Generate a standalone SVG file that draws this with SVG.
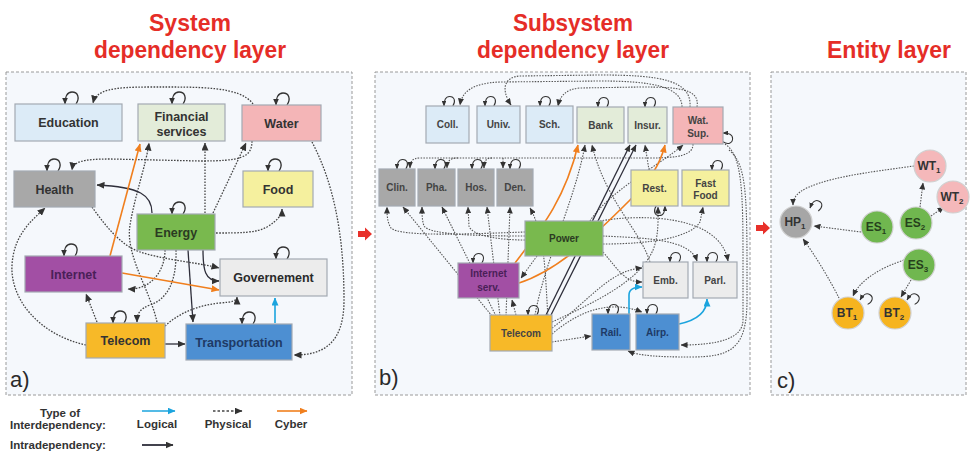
<svg xmlns="http://www.w3.org/2000/svg" xmlns:xlink="http://www.w3.org/1999/xlink" width="971" height="452" viewBox="0 0 971 452">
  <defs>
    <marker id="ah" markerUnits="userSpaceOnUse" markerWidth="8" markerHeight="7" refX="7.5" refY="3.5" orient="auto">
      <path d="M0,0 L8,3.5 L0,7 z" fill="#333"/>
    </marker>
    <marker id="ahs" markerUnits="userSpaceOnUse" markerWidth="7" markerHeight="6" refX="6.5" refY="3" orient="auto">
      <path d="M0,0 L7,3 L0,6 z" fill="#333"/>
    </marker>
    <marker id="ahb" markerUnits="userSpaceOnUse" markerWidth="8" markerHeight="7" refX="7.5" refY="3.5" orient="auto">
      <path d="M0,0 L8,3.5 L0,7 z" fill="#1ba4de"/>
    </marker>
    <marker id="aho" markerUnits="userSpaceOnUse" markerWidth="8" markerHeight="7" refX="7.5" refY="3.5" orient="auto">
      <path d="M0,0 L8,3.5 L0,7 z" fill="#f07f1e"/>
    </marker>
    <path id="loop" d="M11,0 C15,-6 13,-12 7,-12 C2,-12 0,-7 0,0" fill="none" stroke="#333" stroke-width="1.3" marker-end="url(#ahs)"/>
    <style>
      .panel { fill:#f5f8fc; stroke:#9a9a9a; stroke-width:1; stroke-dasharray:3 2; }
      .title { font-family:"Liberation Sans", Arial, sans-serif; font-weight:bold; font-size:24px; fill:#e52d27; text-anchor:middle; }
      .box { stroke:#a3aab2; stroke-width:1.2; }
      .la { font-family:"Liberation Sans", Arial, sans-serif; font-weight:bold; font-size:12.5px; fill:#333; text-anchor:middle; }
      .lb { font-family:"Liberation Sans", Arial, sans-serif; font-weight:bold; font-size:10px; fill:#444; text-anchor:middle; }
      .lc { font-family:"Liberation Sans", Arial, sans-serif; font-weight:bold; font-size:12px; fill:#333; text-anchor:middle; }
      .tag { font-family:"Liberation Sans", Arial, sans-serif; font-size:22px; fill:#2a2a2a; }
      .leg { font-family:"Liberation Sans", Arial, sans-serif; font-weight:bold; font-size:11.5px; fill:#333; }
      .phys { fill:none; stroke:#444; stroke-width:1.3; stroke-dasharray:1.6 1.4; marker-end:url(#ah); }
      .physs { fill:none; stroke:#555; stroke-width:1.1; stroke-dasharray:1.5 1.3; marker-end:url(#ahs); }
      .intra { fill:none; stroke:#2e2e3a; stroke-width:1.3; marker-end:url(#ah); }
      .intras { fill:none; stroke:#2e2e3a; stroke-width:1.3; marker-end:url(#ahs); }
      .cyber { fill:none; stroke:#f07f1e; stroke-width:1.6; marker-end:url(#aho); }
      .logic { fill:none; stroke:#1ba4de; stroke-width:1.6; marker-end:url(#ahb); }
      .edu { fill:#dcebf7; } .fin { fill:#e3ecd9; } .wat { fill:#f4b5b7; } .hlt { fill:#a8a8a8; }
      .food { fill:#f5f09e; } .eng { fill:#79b94e; } .net { fill:#a24fa4; } .gov { fill:#ececec; }
      .tel { fill:#f7b928; } .trn { fill:#4d8fd2; }
      .circ { stroke:#d0d0d0; stroke-width:1.2; }
    </style>
  </defs>

  <rect width="971" height="452" fill="#ffffff"/>

  <!-- panel frames -->
  <rect class="panel" x="6" y="72" width="346" height="323"/>
  <rect class="panel" x="375" y="72" width="375" height="323"/>
  <rect class="panel" x="771" y="72" width="195" height="323"/>

  <!-- titles -->
  <text class="title" x="190" y="31" textLength="82" lengthAdjust="spacingAndGlyphs">System</text>
  <text class="title" x="190" y="58" textLength="192" lengthAdjust="spacingAndGlyphs">dependency layer</text>
  <text class="title" x="573" y="31" textLength="120" lengthAdjust="spacingAndGlyphs">Subsystem</text>
  <text class="title" x="573" y="58" textLength="192" lengthAdjust="spacingAndGlyphs">dependency layer</text>
  <text class="title" x="889" y="58" textLength="124" lengthAdjust="spacingAndGlyphs">Entity layer</text>

  <!-- layer transition arrows -->
  <path d="M358,231 L365,231 L365,227.5 L372,234 L365,240.5 L365,237 L358,237 z" fill="#e8302a"/>
  <path d="M756,225 L763,225 L763,221.5 L770,228 L763,234.5 L763,231 L756,231 z" fill="#e8302a"/>

  <!-- ===== a) system connectors ===== -->
  <g id="connectors-a">
    <path class="phys" d="M253,104 C240,86 200,87 150,87 C112,87 96,90 93,103"/>
    <path class="phys" d="M252,141 C252,158 240,161 200,161 L110,159 C82,159 73,162 72,170"/>
    <path class="phys" d="M205,213 L205,143"/>
    <path class="phys" d="M213,213 L246,143"/>
    <path class="phys" d="M216,233 C240,233 256,233 267,227 C278,220 282,215 282,209"/>
    <path class="phys" d="M157,322 C150,290 125,255 130,225 C135,195 146,165 149,143"/>
    <path class="phys" d="M92,207 C105,225 120,245 140,252 C165,260 195,262 219,268"/>
    <path class="phys" d="M165,250 C165,272 150,290 128,289"/>
    <path class="phys" d="M176,250 C177,285 165,300 150,305 C140,309 137,313 137,322"/>
    <path class="phys" d="M97,322 L86,294"/>
    <path class="phys" d="M86,345 C40,335 10,300 12,265 C14,235 30,222 45,208"/>
    <path class="phys" d="M312,142 C332,180 344,230 344,300 C344,345 322,355 294,355"/>
    <path class="phys" d="M165,326 C180,312 200,305 220,303 C232,302 237,301 237,297"/>
    <path class="intra" d="M152,213 C152,195 140,187 97,185"/>
    <path class="intra" d="M188,250 L193,322"/>
    <path class="intra" d="M203,250 C203,270 205,281 219,281"/>
    <path class="intra" d="M165,344 L185,344"/>
    <path class="cyber" d="M110,256 L140,144"/>
    <path class="cyber" d="M122,273 L219,290"/>
    <path class="logic" d="M275,323 L275,298"/>
    <use href="#loop" transform="translate(65,104)"/>
    <use href="#loop" transform="translate(172,104)"/>
    <use href="#loop" transform="translate(276,105)"/>
    <use href="#loop" transform="translate(47,171)"/>
    <use href="#loop" transform="translate(268,171)"/>
    <use href="#loop" transform="translate(172,214)"/>
    <use href="#loop" transform="translate(64,256)"/>
    <use href="#loop" transform="translate(276,259)"/>
    <use href="#loop" transform="translate(113,323)"/>
    <use href="#loop" transform="translate(242,324)"/>
  </g>

  <!-- ===== a) system nodes ===== -->
  <g id="a-education"><rect class="box edu" x="15" y="104" width="107" height="37"/><text class="la" x="68.5" y="127">Education</text></g>
  <g id="a-financial"><rect class="box fin" x="138" y="104" width="87" height="37"/><text class="la" x="181.5" y="121">Financial</text><text class="la" x="181.5" y="136">services</text></g>
  <g id="a-water"><rect class="box wat" x="242" y="105" width="79" height="36"/><text class="la" x="281.5" y="127.5">Water</text></g>
  <g id="a-health"><rect class="box hlt" x="14" y="171" width="81" height="36"/><text class="la" x="54.5" y="193.5" fill="#3a3a3a">Health</text></g>
  <g id="a-food"><rect class="box food" x="243" y="171" width="70" height="36"/><text class="la" x="278" y="193.5">Food</text></g>
  <g id="a-energy"><rect class="box eng" x="137" y="214" width="78" height="36"/><text class="la" x="176" y="236.5" style="fill:#2b3b22">Energy</text></g>
  <g id="a-internet"><rect class="box net" x="25" y="256" width="97" height="36"/><text class="la" x="73.5" y="278.5" style="fill:#4a1f58">Internet</text></g>
  <g id="a-government"><rect class="box gov" x="220" y="259" width="107" height="37"/><text class="la" x="273.5" y="282" style="fill:#2a2a2a">Governement</text></g>
  <g id="a-telecom"><rect class="box tel" x="86" y="323" width="79" height="35"/><text class="la" x="125.5" y="345">Telecom</text></g>
  <g id="a-transportation"><rect class="box trn" x="186" y="324" width="106" height="36"/><text class="la" x="239" y="346.5" style="fill:#1e3a66">Transportation</text></g>
  <text class="tag" x="10" y="387">a)</text>

  <!-- ===== b) subsystem connectors ===== -->
  <g id="connectors-b">
    <path class="physs" d="M682,107 C682,86 650,81 600,81 L500,82 C472,83 462,92 460,105"/>
    <path class="physs" d="M690,107 C692,80 660,75 600,75 L520,76 C505,77 500,88 511,105"/>
    <path class="physs" d="M697,107 C700,89 680,87 640,87 L580,88 C566,89 560,96 558,106"/>
    <path class="physs" d="M693,144 C693,155 680,158 650,158 L420,158 C412,158 410,162 410,168"/>
    <path class="physs" d="M458,158 C450,158 447,161 447,168"/>
    <path class="physs" d="M492,158 C486,158 484,161 484,168"/>
    <path class="physs" d="M503,158 L503,168"/>
    <path class="physs" d="M525,232 C470,234 400,237 391,228 C387,222 387,214 387,207"/>
    <path class="physs" d="M525,236 C480,236 430,235 424,226 C422,220 422,214 422,207"/>
    <path class="physs" d="M525,240 C500,240 472,236 469,226 L468,207"/>
    <path class="physs" d="M492,316 L403,207"/>
    <path class="physs" d="M496,316 L442,207"/>
    <path class="physs" d="M500,316 L487,207"/>
    <path class="physs" d="M506,316 L510,207"/>
    <path class="physs" d="M548,318 C545,270 545,235 530,208"/>
    <path class="physs" d="M537,256 L521,278"/>
    <path class="physs" d="M516,315 L512,300"/>
    <path class="physs" d="M535,315 C545,260 575,200 585,145"/>
    <path class="physs" d="M650,262 C640,230 605,200 592,145"/>
    <path class="physs" d="M649,170 L645,145"/>
    <path class="physs" d="M590,221 C610,190 660,165 683,145"/>
    <path class="physs" d="M725,144 C742,155 743,190 743,260 L743,320 C743,338 720,345 681,345"/>
    <path class="physs" d="M729,150 C748,165 747,200 747,300 C747,350 730,357 690,357 C660,357 640,356 628,351"/>
    <path class="physs" d="M552,322 C600,300 640,280 653,250 C659,235 658,220 658,207"/>
    <path class="physs" d="M603,244 C650,244 690,238 700,222 L703,207"/>
    <path class="physs" d="M552,328 C590,300 610,270 642,268"/>
    <path class="physs" d="M603,252 C620,272 625,282 642,282"/>
    <path class="physs" d="M603,236 C640,238 690,238 697,261"/>
    <path class="physs" d="M600,221 C640,214 720,214 728,261"/>
    <path class="physs" d="M552,334 C580,310 610,300 642,312"/>
    <path class="physs" d="M552,342 L591,336"/>
    <path class="intras" d="M546,315 L630,145"/>
    <path class="intras" d="M551,315 L636,145"/>
    <path class="cyber" d="M515,263 C540,230 565,200 578,145"/>
    <path class="cyber" d="M519,283 C560,270 600,230 630,200 C650,180 660,165 665,145"/>
    <path class="logic" d="M629,314 L629,295 C629,289 634,287 642,287"/>
    <path class="logic" d="M679,324 C698,320 707,312 707,299"/>
    <use href="#loop" transform="translate(444,106) scale(0.8)"/>
    <use href="#loop" transform="translate(485,106) scale(0.8)"/>
    <use href="#loop" transform="translate(540,106) scale(0.8)"/>
    <use href="#loop" transform="translate(598,107) scale(0.8)"/>
    <use href="#loop" transform="translate(645,107) scale(0.8)"/>
    <use href="#loop" transform="translate(723,133) rotate(90) scale(0.8)"/>
    <use href="#loop" transform="translate(397,169) scale(0.8)"/>
    <use href="#loop" transform="translate(435,169) scale(0.8)"/>
    <use href="#loop" transform="translate(472,169) scale(0.8)"/>
    <use href="#loop" transform="translate(510,169) scale(0.8)"/>
    <use href="#loop" transform="translate(712,170) scale(0.8)"/>
    <use href="#loop" transform="translate(665,206) rotate(180) scale(0.8)"/>
    <use href="#loop" transform="translate(473,263) scale(0.8)"/>
    <use href="#loop" transform="translate(528,315) scale(0.8)"/>
    <use href="#loop" transform="translate(670,262) scale(0.8)"/>
    <use href="#loop" transform="translate(707,262) scale(0.8)"/>
    <use href="#loop" transform="translate(608,314) scale(0.8)"/>
    <use href="#loop" transform="translate(647,314) scale(0.8)"/>
  </g>

  <!-- ===== b) subsystem nodes ===== -->
  <g id="b-coll"><rect class="box edu" x="426" y="106" width="43" height="37"/><text class="lb" x="447.5" y="128">Coll.</text></g>
  <g id="b-univ"><rect class="box edu" x="477" y="106" width="43" height="37"/><text class="lb" x="498.5" y="128">Univ.</text></g>
  <g id="b-sch"><rect class="box edu" x="526" y="106" width="47" height="37"/><text class="lb" x="549.5" y="128">Sch.</text></g>
  <g id="b-bank"><rect class="box fin" x="577" y="107" width="47" height="36"/><text class="lb" x="600.5" y="128.5">Bank</text></g>
  <g id="b-insur"><rect class="box fin" x="628" y="107" width="39" height="36"/><text class="lb" x="647.5" y="128.5">Insur.</text></g>
  <g id="b-watsup"><rect class="box wat" x="673" y="107" width="50" height="37"/><text class="lb" x="698" y="124">Wat.</text><text class="lb" x="698" y="137">Sup.</text></g>
  <g id="b-clin"><rect class="box hlt" x="379" y="169" width="36" height="37"/><text class="lb" x="397" y="191">Clin.</text></g>
  <g id="b-pha"><rect class="box hlt" x="418" y="169" width="37" height="37"/><text class="lb" x="436.5" y="191">Pha.</text></g>
  <g id="b-hos"><rect class="box hlt" x="458" y="169" width="36" height="37"/><text class="lb" x="476" y="191">Hos.</text></g>
  <g id="b-den"><rect class="box hlt" x="497" y="169" width="36" height="37"/><text class="lb" x="515" y="191">Den.</text></g>
  <g id="b-rest"><rect class="box food" x="631" y="170" width="47" height="36"/><text class="lb" x="654.5" y="191.5">Rest.</text></g>
  <g id="b-fastfood"><rect class="box food" x="682" y="170" width="47" height="36"/><text class="lb" x="705.5" y="187">Fast</text><text class="lb" x="705.5" y="199">Food</text></g>
  <g id="b-power"><rect class="box eng" x="525" y="221" width="78" height="35"/><text class="lb" x="564" y="242" style="fill:#2b3b22">Power</text></g>
  <g id="b-internetserv"><rect class="box net" x="458" y="263" width="61" height="35"/><text class="lb" x="488.5" y="277" style="fill:#4a1f58">Internet</text><text class="lb" x="488.5" y="291" style="fill:#4a1f58">serv.</text></g>
  <g id="b-telecom"><rect class="box tel" x="490" y="315" width="62" height="36"/><text class="lb" x="521" y="336.5">Telecom</text></g>
  <g id="b-emb"><rect class="box gov" x="643" y="262" width="45" height="36"/><text class="lb" x="665.5" y="283.5">Emb.</text></g>
  <g id="b-parl"><rect class="box gov" x="693" y="262" width="44" height="36"/><text class="lb" x="715" y="283.5">Parl.</text></g>
  <g id="b-rail"><rect class="box trn" x="592" y="314" width="38" height="36"/><text class="lb" x="611" y="335.5" style="fill:#1e3a66">Rail.</text></g>
  <g id="b-airp"><rect class="box trn" x="636" y="314" width="43" height="36"/><text class="lb" x="657.5" y="335.5" style="fill:#1e3a66">Airp.</text></g>
  <text class="tag" x="379" y="385">b)</text>

  <!-- ===== c) entity connectors ===== -->
  <g id="connectors-c">
    <path class="physs" d="M914,166 C870,172 820,178 800,192 C795,196 793,200 793,205"/>
    <path class="physs" d="M861,232 L814,226"/>
    <path class="physs" d="M920,207 L923,183"/>
    <path class="physs" d="M931,216 L944,207"/>
    <path class="physs" d="M839,298 C830,280 815,255 803,239"/>
    <path class="physs" d="M904,260 C880,268 860,280 853,296"/>
    <path class="physs" d="M911,280 L901,297"/>
    <use href="#loop" transform="translate(810,208) rotate(20) scale(0.8)"/>
    <use href="#loop" transform="translate(860,300) rotate(30) scale(0.8)"/>
    <use href="#loop" transform="translate(907,300) rotate(30) scale(0.8)"/>
  </g>

  <!-- ===== c) entity nodes ===== -->
  <g id="c-wt1"><circle class="circ" cx="930" cy="166" r="16" fill="#f5b8ba"/><text class="lc" x="929" y="170">WT<tspan font-size="8" dy="3">1</tspan></text></g>
  <g id="c-wt2"><circle class="circ" cx="953" cy="197" r="16" fill="#f5b8ba"/><text class="lc" x="952" y="201">WT<tspan font-size="8" dy="3">2</tspan></text></g>
  <g id="c-hp1"><circle class="circ" cx="796" cy="222" r="16" fill="#a6a6a6"/><text class="lc" x="795" y="226">HP<tspan font-size="8" dy="3">1</tspan></text></g>
  <g id="c-es1"><circle class="circ" cx="877" cy="227" r="16" fill="#70b74f"/><text class="lc" x="876" y="231" style="fill:#26401c">ES<tspan font-size="8" dy="3">1</tspan></text></g>
  <g id="c-es2"><circle class="circ" cx="916" cy="223" r="16" fill="#70b74f"/><text class="lc" x="915" y="227" style="fill:#26401c">ES<tspan font-size="8" dy="3">2</tspan></text></g>
  <g id="c-es3"><circle class="circ" cx="919" cy="265" r="16" fill="#70b74f"/><text class="lc" x="918" y="269" style="fill:#26401c">ES<tspan font-size="8" dy="3">3</tspan></text></g>
  <g id="c-bt1"><circle class="circ" cx="848" cy="313" r="16" fill="#f6b41f"/><text class="lc" x="847" y="317">BT<tspan font-size="8" dy="3">1</tspan></text></g>
  <g id="c-bt2"><circle class="circ" cx="895" cy="313" r="16" fill="#f6b41f"/><text class="lc" x="894" y="317">BT<tspan font-size="8" dy="3">2</tspan></text></g>
  <text class="tag" x="777" y="388">c)</text>

  <!-- ===== legend ===== -->
  <g id="legend">
    <text class="leg" x="60" y="417" text-anchor="middle">Type of</text>
    <text class="leg" x="10" y="429">Interdependency:</text>
    <text class="leg" x="10" y="449">Intradependency:</text>
    <path class="logic" d="M142,411 L175,411"/>
    <text class="leg" x="157" y="428" text-anchor="middle">Logical</text>
    <path class="phys" d="M213,411 L242,411" style="stroke-dasharray:2.5 2"/>
    <text class="leg" x="228" y="428" text-anchor="middle">Physical</text>
    <path class="cyber" d="M277,411 L307,411"/>
    <text class="leg" x="291" y="428" text-anchor="middle">Cyber</text>
    <path class="intra" d="M142,445 L173,445" style="stroke-width:1.8"/>
  </g>
</svg>
